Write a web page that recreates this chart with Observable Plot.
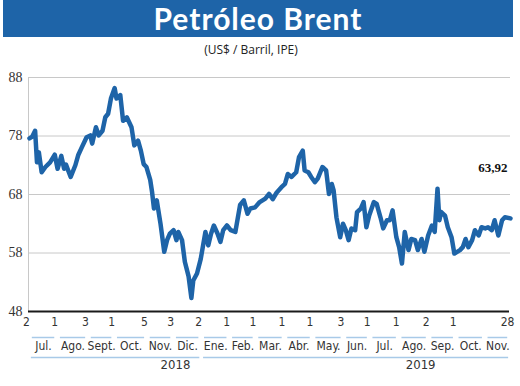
<!DOCTYPE html>
<html>
<head>
<meta charset="utf-8">
<script src="https://cdn.jsdelivr.net/npm/d3@7"></script>
<script src="https://cdn.jsdelivr.net/npm/@observablehq/plot@0.6"></script>
<style>
  html, body { margin: 0; padding: 0; background: #fff; }
  #wrap { position: relative; width: 520px; height: 386px; overflow: hidden; }
  #title { position: absolute; left: 3px; top: 0; width: 510px; height: 37px; background: #1e64a8;
    color: #fff; font-family: Lato, "Open Sans", sans-serif; font-weight: 700; font-size: 30px;
    letter-spacing: 1px; text-align: center; line-height: 37px; }
  #subtitle { position: absolute; left: 0; top: 42px; width: 502px; text-align: center;
    font-family: "Open Sans", sans-serif; font-size: 12px; color: #222; line-height: 16px; }
  #chart { position: absolute; left: 0; top: 60px; }
</style>
</head>
<body>
<div id="wrap">
  <div id="title">Petróleo Brent</div>
  <div id="subtitle">(US$ / Barril, IPE)</div>
  <div id="chart"></div>
</div>
<script>
const dates = ["2018-07-02","2018-07-05","2018-07-08","2018-07-10","2018-07-12","2018-07-15","2018-07-19","2018-07-24","2018-07-29",
"2018-08-01","2018-08-05","2018-08-08","2018-08-10","2018-08-15","2018-08-20","2018-08-23","2018-08-27",
"2018-09-01","2018-09-05","2018-09-07","2018-09-11","2018-09-14","2018-09-18","2018-09-21","2018-09-24","2018-09-27",
"2018-10-01","2018-10-03","2018-10-07","2018-10-10","2018-10-14","2018-10-19","2018-10-22","2018-10-26","2018-10-29",
"2018-11-01","2018-11-04","2018-11-08","2018-11-10","2018-11-12","2018-11-15","2018-11-19","2018-11-23","2018-11-26","2018-11-29",
"2018-12-03","2018-12-06","2018-12-08","2018-12-12","2018-12-15","2018-12-19","2018-12-22","2018-12-24","2018-12-28",
"2019-01-01","2019-01-06","2019-01-09","2019-01-12","2019-01-15","2019-01-19","2019-01-22","2019-01-25","2019-01-29",
"2019-02-02","2019-02-07","2019-02-12","2019-02-16","2019-02-20","2019-02-23","2019-02-28",
"2019-03-05","2019-03-11","2019-03-15","2019-03-19","2019-03-23","2019-03-28",
"2019-04-01","2019-04-04","2019-04-08","2019-04-13","2019-04-16","2019-04-20","2019-04-22","2019-04-26","2019-04-29",
"2019-05-03","2019-05-06","2019-05-11","2019-05-15","2019-05-18","2019-05-21","2019-05-23","2019-05-26","2019-05-30",
"2019-06-02","2019-06-05","2019-06-08","2019-06-11","2019-06-15","2019-06-17","2019-06-21","2019-06-24","2019-06-27","2019-06-30",
"2019-07-05","2019-07-08","2019-07-12","2019-07-15","2019-07-19","2019-07-22","2019-07-25","2019-07-29",
"2019-08-01","2019-08-04","2019-08-07","2019-08-11","2019-08-14","2019-08-18","2019-08-21","2019-08-25","2019-08-28",
"2019-09-01","2019-09-05","2019-09-08","2019-09-11","2019-09-13","2019-09-15","2019-09-19","2019-09-22","2019-09-26","2019-09-29",
"2019-10-05","2019-10-08","2019-10-11","2019-10-14","2019-10-18","2019-10-21","2019-10-25","2019-10-28",
"2019-11-01","2019-11-04","2019-11-08","2019-11-11","2019-11-15","2019-11-19","2019-11-22","2019-11-28"];

const prices = [77.6,77.9,78.9,73.5,75.2,71.8,72.7,73.5,74.8,
72.4,74.6,72.4,73.1,71.0,73.0,74.7,76.1,
77.8,78.1,76.7,79.5,78.1,78.9,81.2,81.8,84.4,
86.2,84.4,85.0,80.6,81.2,79.5,76.4,77.2,75.5,
73.2,72.7,70.5,68.4,65.6,67.0,63.0,58.2,60.2,61.3,
61.9,60.2,61.6,60.2,56.5,54.0,50.3,53.3,54.5,
57.0,61.6,59.3,61.3,62.7,61.3,59.9,61.9,62.7,
61.9,61.6,66.2,67.0,64.7,65.6,65.8,
66.7,67.3,68.1,67.2,68.3,69.2,
69.8,71.5,71.0,71.8,74.4,75.5,72.1,71.8,71.0,
70.1,70.7,72.7,72.1,68.1,69.8,68.7,64.1,60.7,
63.0,61.9,60.2,62.2,61.9,65.0,65.6,66.7,62.4,64.4,
66.7,66.4,64.1,62.2,63.6,63.6,65.3,60.7,
59.0,56.2,61.6,58.5,60.4,60.2,58.5,60.4,58.2,
61.0,62.7,61.6,69.0,63.6,65.0,64.4,62.4,60.7,57.9,
58.5,59.0,60.4,59.0,60.2,61.9,61.0,62.4,
62.2,62.4,61.9,63.6,61.0,63.6,64.1,63.92];

const lastLabel = "63,92";

const yTicks = [48, 58, 68, 78, 88];
const gridValues = [58, 68, 78, 88];

// month boundaries on the x axis and the day number printed at each
const boundaries = ["2018-07-02","2018-08-01","2018-09-03","2018-10-01","2018-11-05","2018-12-03",
"2019-01-02","2019-02-01","2019-03-01","2019-04-01","2019-05-01","2019-06-03","2019-07-01","2019-08-01",
"2019-09-02","2019-10-01","2019-11-01","2019-11-28"];
const dayLabels = ["2","1","3","1","5","3","2","1","1","1","1","3","1","1","2","1","","28"];
const monthNames = ["Jul.","Ago.","Sept.","Oct.","Nov.","Dic.","Ene.","Feb.","Mar.","Abr.","May.","Jun.","Jul.","Ago.","Sep.","Oct.","Nov."];

const years = ["2018","2019"];
const yearStarts = ["2018-07-02","2019-01-02"];
const yearEnds = ["2019-01-02","2019-11-28"];
const yearLabelDates = ["2018-12-05","2019-08-24"];

const data = dates.map((d, i) => ({date: new Date(d), price: prices[i]}));
const bounds = boundaries.map((d, i) => ({date: new Date(d), label: dayLabels[i]}));
const months = monthNames.map((m, i) => ({
  name: m, start: new Date(boundaries[i]), end: new Date(boundaries[i + 1])
}));
const yearSegs = years.map((y, i) => ({
  name: y, start: new Date(yearStarts[i]), end: new Date(yearEnds[i]), at: new Date(yearLabelDates[i])
}));

const blue = "#1e64a8";
const underline = "#a8cae8";
const sansNarrow = "'Liberation Sans Narrow', 'DejaVu Sans Condensed', 'Open Sans', sans-serif";
const last = data[data.length - 1];

const chart = Plot.plot({
  width: 520,
  height: 326,
  marginTop: 17,
  marginBottom: 75,
  marginLeft: 29,
  marginRight: 10,
  x: {type: "utc", domain: [data[0].date, last.date], axis: null},
  y: {domain: [48, 88], axis: null},
  marks: [
    Plot.ruleY(gridValues, {stroke: "#c8c8c8", strokeWidth: 1}),
    Plot.ruleX([data[0].date], {y1: 48, y2: 88, stroke: "#c8c8c8", strokeWidth: 1, dx: -1}),
    Plot.line(data, {x: "date", y: "price", stroke: blue, strokeWidth: 4.5, strokeLinejoin: "round", strokeLinecap: "round"}),
    Plot.ruleY([48], {stroke: "#1a1a1a", strokeWidth: 2, x1: data[0].date, x2: last.date, dx: -1}),
    Plot.text(yTicks, {y: d => d, text: d => String(d), frameAnchor: "left", dx: -7, textAnchor: "end",
      fontSize: 14, fontFamily: "'Liberation Serif', serif", fill: "#333"}),
    Plot.text([last], {x: "date", y: "price", text: () => lastLabel, dy: -51, dx: -3, textAnchor: "end",
      fontSize: 13, fontWeight: "bold", fontFamily: "'Liberation Serif', serif", fill: "#111"}),
    // x axis: day numbers at month boundaries
    Plot.text(bounds, {x: "date", text: "label", frameAnchor: "bottom", dy: 14, dx: -3,
      fontSize: 12, fontFamily: sansNarrow, fill: "#333"}),
    // month underline segments
    Plot.ruleY(months, {x1: d => d3.utcDay.offset(d.start, 3), x2: d => d3.utcDay.offset(d.end, -3), y: () => 48,
      dy: 26, stroke: underline, strokeWidth: 1.5}),
    Plot.text(months, {x: d => new Date((+d.start + +d.end) / 2), text: "name", frameAnchor: "bottom", dy: 38,
      fontSize: 12, fontFamily: sansNarrow, fill: "#333"}),
    // year underline segments and labels
    Plot.ruleY(yearSegs, {x1: d => d3.utcDay.offset(d.start, 2), x2: d => d3.utcDay.offset(d.end, -2), y: () => 48,
      dy: 46, stroke: underline, strokeWidth: 1.5}),
    Plot.text(yearSegs, {x: "at", text: "name", frameAnchor: "bottom", dy: 57,
      fontSize: 13, fontFamily: sansNarrow, fill: "#333"})
  ]
});
document.getElementById("chart").appendChild(chart);
</script>
</body>
</html>
